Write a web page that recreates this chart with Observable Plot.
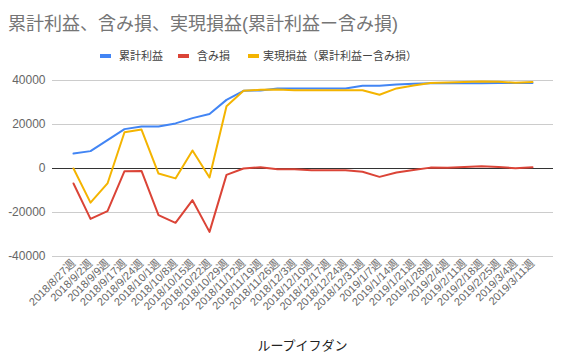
<!DOCTYPE html>
<html>
<head>
<meta charset="utf-8">
<script src="https://cdn.jsdelivr.net/npm/d3@7"></script>
<script src="https://cdn.jsdelivr.net/npm/@observablehq/plot@0.6"></script>
<style>
  html, body { margin: 0; padding: 0; background: #fff; }
  #wrap { position: relative; width: 564px; height: 362px; overflow: hidden;
          font-family: 'Liberation Sans', Arial, 'Noto Sans CJK JP', sans-serif; }
  #title { position: absolute; left: 8px; top: 13px; font-size: 18px; color: #757575; white-space: nowrap; line-height: 22px; }
  .leg { position: absolute; top: 49px; font-size: 11px; color: #444; white-space: nowrap; line-height: 14px; }
  .sw { position: absolute; top: 54px; width: 11px; height: 4px; }
  #xlabel { position: absolute; left: 0; width: 605px; text-align: center; top: 338px; font-size: 13px; color: #222; line-height: 16px; }
  #chart { position: absolute; left: 0; top: 0; }
</style>
</head>
<body>
<div id="wrap">
  <div id="chart"></div>
  <div id="title">累計利益、含み損、実現損益(累計利益ー含み損)</div>
  <div class="sw" style="left:100px;background:#4285F4"></div>
  <div class="leg" style="left:119px">累計利益</div>
  <div class="sw" style="left:178px;background:#DB4437"></div>
  <div class="leg" style="left:197px">含み損</div>
  <div class="sw" style="left:248px;background:#F4B400"></div>
  <div class="leg" style="left:263px">実現損益（累計利益ー含み損）</div>
  <div id="xlabel">ループイフダン</div>
</div>
<script>
const weeks = ["2018/8/27週","2018/9/2週","2018/9/9週","2018/9/17週","2018/9/24週","2018/10/1週","2018/10/8週","2018/10/15週","2018/10/22週","2018/10/29週","2018/11/12週","2018/11/19週","2018/11/26週","2018/12/3週","2018/12/10週","2018/12/17週","2018/12/24週","2018/12/31週","2019/1/7週","2019/1/14週","2019/1/21週","2019/1/28週","2019/2/4週","2019/2/11週","2019/2/18週","2019/2/25週","2019/3/4週","2019/3/11週"];
const cumulativeProfit = [6800, 7900, 12900, 17900, 19100, 19100, 20500, 22900, 24800, 31200, 35300, 35500, 36400, 36400, 36400, 36400, 36400, 37600, 37600, 38200, 38500, 38800, 38800, 38800, 38800, 38900, 38900, 38900];
const unrealizedLoss = [-6800, -22900, -19400, -1200, -1100, -21200, -24700, -14400, -28800, -2900, 0, 600, -300, -300, -800, -800, -800, -1500, -3800, -1800, -700, 400, 300, 700, 1000, 700, 100, 600];
const realizedPL = [0, -15500, -6800, 16500, 17700, -2300, -4500, 8200, -4100, 28300, 35300, 35800, 35900, 35600, 35600, 35600, 35600, 35600, 33500, 36400, 37700, 38900, 39100, 39300, 39500, 39400, 39000, 39300];
const yTicks = [-40000, -20000, 0, 20000, 40000];

const toRows = vals => weeks.map((w, i) => ({week: w, value: vals[i]}));

const chart = Plot.plot({
  width: 564,
  height: 362,
  marginTop: 80,
  marginBottom: 106,
  marginLeft: 52,
  marginRight: 11,
  style: {fontFamily: "'Liberation Sans', Arial, 'Noto Sans CJK JP', sans-serif", fontSize: "12px", color: "#666", background: "transparent"},
  x: {type: "point", domain: weeks, padding: 0.5},
  y: {domain: [-40000, 40000]},
  marks: [
    Plot.ruleY(yTicks.filter(d => d !== 0), {stroke: "#cccccc", strokeWidth: 1}),
    Plot.ruleY([0], {stroke: "#333333", strokeWidth: 1}),
    Plot.axisY({ticks: yTicks, tickSize: 0, tickPadding: 7, label: null, tickFormat: d => String(d), fill: "#666"}),
    Plot.axisX({tickRotate: -45, tickSize: 0, tickPadding: 5, label: null, fill: "#666", fontSize: 11}),
    Plot.line(toRows(cumulativeProfit), {x: "week", y: "value", stroke: "#4285F4", strokeWidth: 2}),
    Plot.line(toRows(unrealizedLoss), {x: "week", y: "value", stroke: "#DB4437", strokeWidth: 2}),
    Plot.line(toRows(realizedPL), {x: "week", y: "value", stroke: "#F4B400", strokeWidth: 2})
  ]
});
document.getElementById("chart").appendChild(chart);
</script>
</body>
</html>
